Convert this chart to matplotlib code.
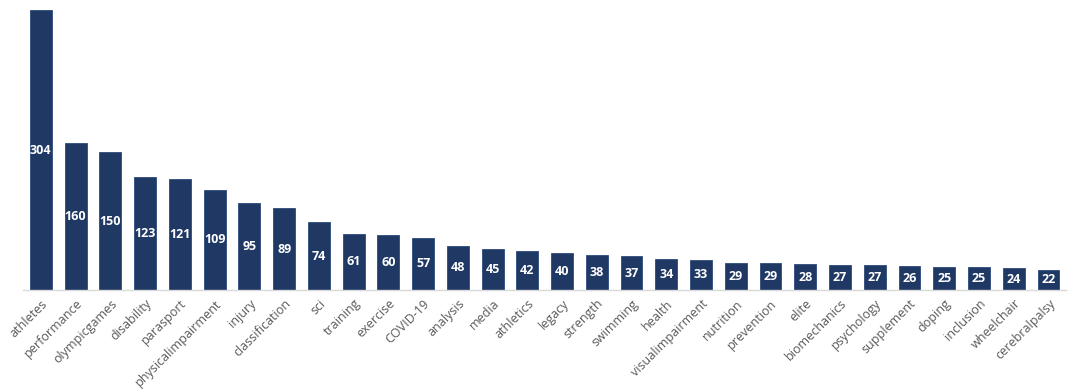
import numpy as np
import matplotlib.pyplot as plt

keywords = ['athletes', 'performance', 'olympicgames', 'disability', 'parasport',
            'physicalimpairment', 'injury', 'classification', 'sci', 'training',
            'exercise', 'COVID-19', 'analysis', 'media', 'athletics', 'legacy',
            'strength', 'swimming', 'health', 'visualimpairment', 'nutrition',
            'prevention', 'elite', 'biomechanics', 'psychology', 'supplement',
            'doping', 'inclusion', 'wheelchair', 'cerebralpalsy']
counts = [304, 160, 150, 123, 121, 109, 95, 89, 74, 61, 60, 57, 48, 45, 42, 40,
          38, 37, 34, 33, 29, 29, 28, 27, 27, 26, 25, 25, 24, 22]

plt.rcParams['font.family'] = ['Open Sans', 'DejaVu Sans']

fig = plt.figure(figsize=(10.68, 3.92), dpi=100)
ax = fig.add_axes([0.022, 0.26, 0.976, 0.714])

x = np.arange(len(keywords))
bars = ax.bar(x, counts, width=0.63, color='#1f3864', edgecolor='#2e4a7d', linewidth=0.6)
for xi, v in zip(x, counts):
    ax.text(xi, v / 2, str(v), ha='center', va='center', color='white',
            fontsize=9, fontweight='bold')

ax.set_xlim(-0.5, len(keywords) - 0.5)
ax.set_ylim(0, 304)
ax.set_xticks(x)
ax.set_xticklabels(keywords, rotation=45, ha='right', rotation_mode='anchor',
                   fontsize=9, color='#595959')
ax.tick_params(axis='x', length=0, pad=5)
ax.set_yticks([])
for s in ['top', 'right', 'left']:
    ax.spines[s].set_visible(False)
ax.spines['bottom'].set_color('#d9d9d9')
ax.spines['bottom'].set_linewidth(1.0)

fig.savefig('out.png', dpi=100)
